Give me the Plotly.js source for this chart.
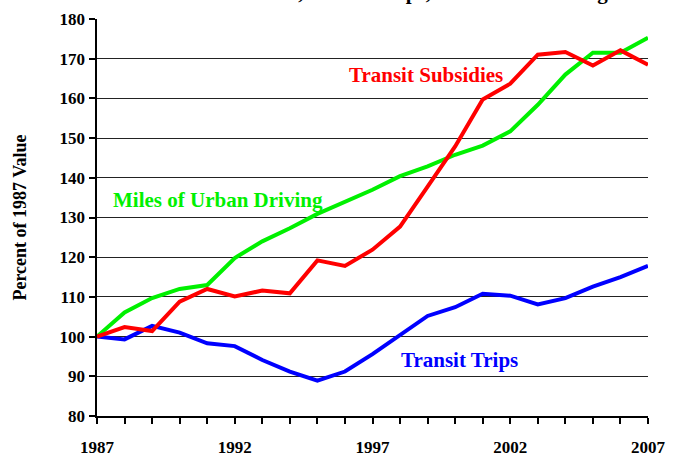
<!DOCTYPE html>
<html>
<head>
<meta charset="utf-8">
<script src="https://cdn.plot.ly/plotly-3.0.1.min.js"></script>
<style>
  html, body { margin: 0; padding: 0; background: #fff; }
  #chart { width: 673px; height: 459px; }
</style>
</head>
<body>
<div id="chart"></div>
<script>
const years = [1987, 1988, 1989, 1990, 1991, 1992, 1993, 1994, 1995, 1996, 1997,
               1998, 1999, 2000, 2001, 2002, 2003, 2004, 2005, 2006, 2007];
const subsidies = [100, 102.4, 101.4, 108.8, 112.0, 110.1, 111.6, 110.9, 119.2, 117.8, 121.9,
                   127.7, 137.8, 147.9, 159.7, 163.7, 171.0, 171.7, 168.3, 172.1, 168.5];
const driving = [100, 106.1, 109.7, 112.0, 113.0, 119.8, 124.0, 127.3, 130.9, 134.0, 137.0,
                 140.4, 142.9, 145.8, 148.1, 151.7, 158.4, 166.0, 171.5, 171.5, 175.3];
const trips = [100, 99.3, 102.7, 101.0, 98.3, 97.6, 94.1, 91.2, 88.9, 91.2, 95.6,
               100.4, 105.2, 107.4, 110.8, 110.3, 108.1, 109.7, 112.6, 115.0, 117.8];
const xTicks = [1987, 1992, 1997, 2002, 2007];
const yTicks = [80, 90, 100, 110, 120, 130, 140, 150, 160, 170, 180];

const serif = 'Liberation Serif';
const RED = '#ff0000', GREEN = '#00f000', BLUE = '#0000ff';

function line(y, color) {
    return {
        x: years,
        y: y,
        type: 'scatter',
        mode: 'lines',
        line: {color: color, width: 4},
        hoverinfo: 'skip',
        showlegend: false
    };
}

const layout = {
    width: 673,
    height: 459,
    margin: {l: 97, r: 25, t: 19, b: 43},
    paper_bgcolor: '#fff',
    plot_bgcolor: '#fff',
    font: {family: serif, color: '#000'},
    xaxis: {
        range: [1987, 2007],
        tickvals: xTicks,
        ticks: 'outside',
        ticklen: 6,
        tickwidth: 2,
        tickcolor: '#000',
        ticklabelstandoff: 9,
        showline: true,
        linecolor: '#000',
        linewidth: 2,
        showgrid: false,
        zeroline: false,
        tickfont: {family: serif, size: 17, weight: 'bold'},
        minor: {dtick: 1, ticks: 'outside', ticklen: 6, tickwidth: 2, tickcolor: '#000', showgrid: false}
    },
    yaxis: {
        range: [80, 180],
        tickvals: yTicks,
        ticks: 'outside',
        ticklen: 6,
        tickwidth: 2,
        tickcolor: '#000',
        showline: true,
        linecolor: '#000',
        linewidth: 2.5,
        showgrid: true,
        gridcolor: '#222',
        gridwidth: 1,
        zeroline: false,
        tickfont: {family: serif, size: 17, weight: 'bold'},
        title: {text: 'Percent of 1987 Value', font: {family: serif, size: 18, weight: 'bold'}, standoff: 29}
    },
    annotations: [
        {text: 'Transit Subsidies, Transit Trips, and Urban Driving', xref: 'paper', yref: 'paper',
         x: 0.506, y: 1.033, xanchor: 'center', yanchor: 'bottom', showarrow: false,
         font: {family: serif, size: 21, weight: 'bold'}},
        {text: 'Transit Subsidies', x: 1998.95, y: 166, xanchor: 'center', yanchor: 'middle',
         showarrow: false, font: {family: serif, size: 21, weight: 'bold', color: RED}},
        {text: 'Miles of Urban Driving', x: 1987.5, y: 134.5, xanchor: 'left', yanchor: 'middle',
         showarrow: false, font: {family: serif, size: 21, weight: 'bold', color: GREEN}},
        {text: 'Transit Trips', x: 1997.95, y: 94.1, xanchor: 'left', yanchor: 'middle',
         showarrow: false, font: {family: serif, size: 21, weight: 'bold', color: BLUE}}
    ]
};

Plotly.newPlot('chart', [line(trips, BLUE), line(driving, GREEN), line(subsidies, RED)], layout,
    {displayModeBar: false, staticPlot: true});
</script>
</body>
</html>
